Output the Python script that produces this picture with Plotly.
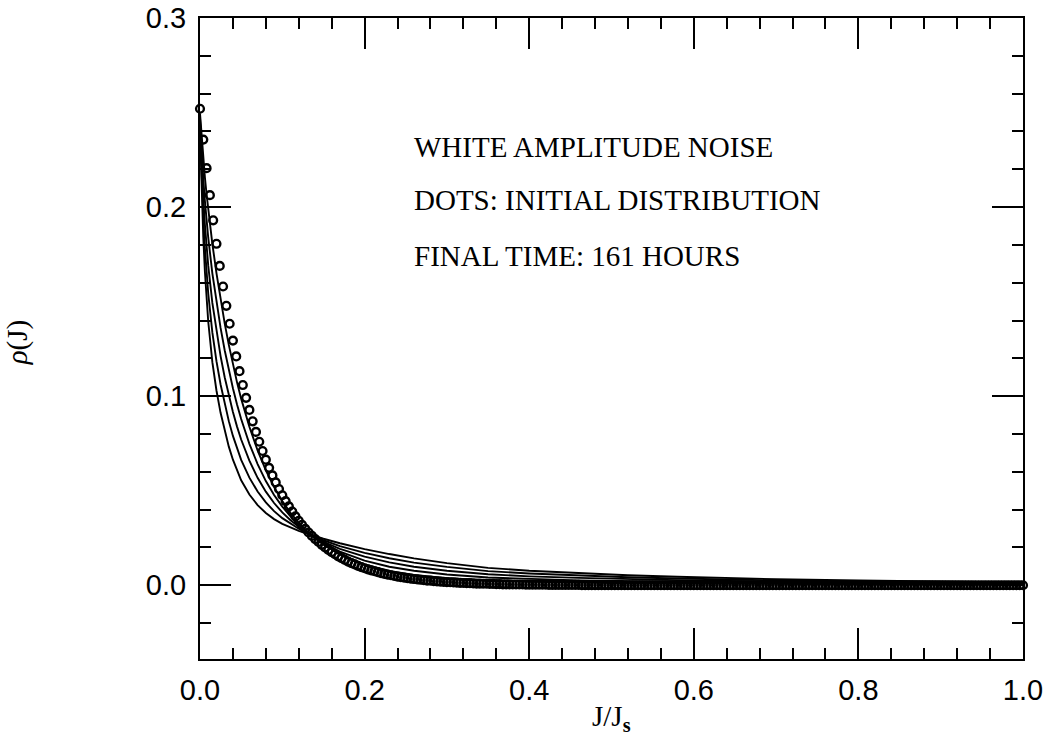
import numpy as np
import plotly.graph_objects as go

# ---- initial distribution (dots), sampled every 0.004 in J/Js ----
dot_x = np.round(np.linspace(0.0, 1.0, 251), 4)
dot_rho = [
    0.2520, 0.2357, 0.2206, 0.2063, 0.1930, 0.1806, 0.1689, 0.1580, 0.1478, 0.1383,
    0.1294, 0.1210, 0.1132, 0.1059, 0.0991, 0.0927, 0.0867, 0.0811, 0.0759, 0.0710,
    0.0664, 0.0621, 0.0581, 0.0544, 0.0509, 0.0476, 0.0445, 0.0417, 0.0390, 0.0364,
    0.0341, 0.0319, 0.0298, 0.0279, 0.0261, 0.0244, 0.0229, 0.0214, 0.0200, 0.0187,
    0.0175, 0.0164, 0.0153, 0.0143, 0.0134, 0.0125, 0.0117, 0.0110, 0.0103, 0.0096,
    0.0090, 0.0084, 0.0079, 0.0074, 0.0069, 0.0064, 0.0060, 0.0056, 0.0053, 0.0049,
    0.0046, 0.0043, 0.0040, 0.0038, 0.0035, 0.0033, 0.0031, 0.0029, 0.0027, 0.0025,
    0.0024, 0.0022, 0.0021, 0.0019, 0.0018, 0.0017, 0.0016, 0.0015, 0.0014, 0.0013,
    0.0012, 0.0011, 0.0011, 0.0010, 0.0009, 0.0009, 0.0008, 0.0008, 0.0007, 0.0007,
    0.0006, 0.0006, 0.0005, 0.0005, 0.0005, 0.0004, 0.0004, 0.0004, 0.0004, 0.0003,
    0.0003, 0.0003, 0.0003, 0.0003, 0.0003, 0.0003, 0.0002, 0.0002, 0.0002, 0.0002,
    0.0002, 0.0002, 0.0002, 0.0002, 0.0002, 0.0002, 0.0001, 0.0001, 0.0001, 0.0001,
    0.0001, 0.0001, 0.0001, 0.0001, 0.0001, 0.0001, 0.0001, 0.0001, 0.0001, 0.0000,
    0.0, 0.0, 0.0, 0.0, 0.0, 0.0, 0.0, 0.0, 0.0, 0.0, 0.0,
    0.0, 0.0, 0.0, 0.0, 0.0, 0.0, 0.0, 0.0, 0.0, 0.0, 0.0,
    0.0, 0.0, 0.0, 0.0, 0.0, 0.0, 0.0, 0.0, 0.0, 0.0, 0.0,
    0.0, 0.0, 0.0, 0.0, 0.0, 0.0, 0.0, 0.0, 0.0, 0.0, 0.0,
    0.0, 0.0, 0.0, 0.0, 0.0, 0.0, 0.0, 0.0, 0.0, 0.0, 0.0,
    0.0, 0.0, 0.0, 0.0, 0.0, 0.0, 0.0, 0.0, 0.0, 0.0, 0.0,
    0.0, 0.0, 0.0, 0.0, 0.0, 0.0, 0.0, 0.0, 0.0, 0.0, 0.0,
    0.0, 0.0, 0.0, 0.0, 0.0, 0.0, 0.0, 0.0, 0.0, 0.0, 0.0,
    0.0, 0.0, 0.0, 0.0, 0.0, 0.0, 0.0, 0.0, 0.0, 0.0, 0.0,
    0.0, 0.0, 0.0, 0.0, 0.0, 0.0, 0.0, 0.0, 0.0, 0.0, 0.0,
    0.0, 0.0, 0.0, 0.0, 0.0, 0.0, 0.0, 0.0, 0.0, 0.0, 0.0,
]

# ---- evolved distributions (solid lines) ----
curve_x = [0.000, 0.002, 0.004, 0.006, 0.008, 0.010, 0.015, 0.020, 0.025, 0.030,
           0.035, 0.040, 0.045, 0.050, 0.060, 0.070, 0.080, 0.090, 0.100, 0.110,
           0.120, 0.130, 0.140, 0.150, 0.170, 0.200, 0.230, 0.260, 0.300, 0.350,
           0.400, 0.460, 0.520, 0.580, 0.640, 0.700, 0.800, 0.900, 1.000]

rho_t1 = [0.2496, 0.2366, 0.2254, 0.2155, 0.2067, 0.1985, 0.1806, 0.1651, 0.1511, 0.1385,
          0.1271, 0.1168, 0.1073, 0.0987, 0.0838, 0.0713, 0.0608, 0.0520, 0.0446, 0.0383,
          0.0330, 0.0286, 0.0247, 0.0215, 0.0163, 0.0110, 0.0076, 0.0055, 0.0037, 0.0024,
          0.0018, 0.0014, 0.0011, 0.0009, 0.0008, 0.0006, 0.0005, 0.0004, 0.0003]
rho_t2 = [0.2472, 0.2294, 0.2150, 0.2030, 0.1928, 0.1838, 0.1650, 0.1496, 0.1361, 0.1243,
          0.1137, 0.1042, 0.0956, 0.0879, 0.0748, 0.0641, 0.0551, 0.0477, 0.0416, 0.0364,
          0.0320, 0.0283, 0.0250, 0.0223, 0.0178, 0.0130, 0.0098, 0.0077, 0.0057, 0.0041,
          0.0033, 0.0026, 0.0021, 0.0018, 0.0015, 0.0013, 0.0010, 0.0008, 0.0006]
rho_t3 = [0.2448, 0.2223, 0.2047, 0.1905, 0.1788, 0.1690, 0.1493, 0.1340, 0.1212, 0.1100,
          0.1002, 0.0916, 0.0839, 0.0771, 0.0659, 0.0568, 0.0495, 0.0435, 0.0385, 0.0344,
          0.0309, 0.0279, 0.0253, 0.0230, 0.0192, 0.0151, 0.0121, 0.0098, 0.0077, 0.0058,
          0.0047, 0.0039, 0.0032, 0.0027, 0.0023, 0.0019, 0.0015, 0.0011, 0.0009]
rho_t4 = [0.2424, 0.2151, 0.1943, 0.1780, 0.1649, 0.1543, 0.1337, 0.1185, 0.1062, 0.0958,
          0.0868, 0.0790, 0.0722, 0.0663, 0.0569, 0.0496, 0.0438, 0.0392, 0.0355, 0.0325,
          0.0299, 0.0276, 0.0256, 0.0238, 0.0207, 0.0171, 0.0143, 0.0120, 0.0097, 0.0075,
          0.0062, 0.0051, 0.0042, 0.0036, 0.0030, 0.0026, 0.0020, 0.0015, 0.0012]
rho_final = [0.2400, 0.2080, 0.1840, 0.1655, 0.1510, 0.1395, 0.1180, 0.1030, 0.0912, 0.0815,
             0.0733, 0.0664, 0.0605, 0.0555, 0.0480, 0.0424, 0.0382, 0.0350, 0.0325, 0.0305,
             0.0288, 0.0273, 0.0259, 0.0246, 0.0222, 0.0191, 0.0165, 0.0142, 0.0117, 0.0092,
             0.0077, 0.0064, 0.0053, 0.0045, 0.0038, 0.0032, 0.0025, 0.0019, 0.0015]

curves = [("t1", rho_t1), ("t2", rho_t2), ("t3", rho_t3), ("t4", rho_t4),
          ("161 hours", rho_final)]

x_tickvals = [0.0, 0.2, 0.4, 0.6, 0.8, 1.0]
x_ticktext = ["0.0", "0.2", "0.4", "0.6", "0.8", "1.0"]
y_tickvals = [0.0, 0.1, 0.2, 0.3]
y_ticktext = ["0.0", "0.1", "0.2", "0.3"]

notes = ["WHITE AMPLITUDE NOISE", "DOTS: INITIAL DISTRIBUTION", "FINAL TIME: 161 HOURS"]
note_y = [0.2317, 0.2037, 0.1741]

fig = go.Figure()
for name, vals in curves:
    fig.add_trace(go.Scatter(x=curve_x, y=vals, mode="lines", name=name,
                             line=dict(color="black", width=1.9), showlegend=False))
fig.add_trace(go.Scatter(x=dot_x, y=dot_rho, mode="markers", name="initial",
                         marker=dict(symbol="circle-open", size=7.8, color="black",
                                     line=dict(width=2.4, color="black")),
                         cliponaxis=False, showlegend=False))

for txt, yv in zip(notes, note_y):
    fig.add_annotation(x=0.257, y=yv, xref="x", yref="y", text=txt, showarrow=False,
                       xanchor="left", yanchor="middle",
                       font=dict(family="Liberation Serif", size=29, color="black"))

# axis titles placed as text annotations
fig.add_annotation(x=0.5006, y=-0.092, xref="paper", yref="paper",
                   text="J/J<sub><b>s</b></sub>", showarrow=False,
                   xanchor="center", yanchor="middle",
                   font=dict(family="Liberation Serif", size=29, color="black"))
fig.add_annotation(x=-0.222, y=0.4945, xref="paper", yref="paper",
                   text="<i>ρ</i>(J)", showarrow=False, textangle=-90,
                   xanchor="center", yanchor="middle",
                   font=dict(family="Liberation Serif", size=29, color="black"))

axis_common = dict(ticks="inside", tickwidth=1.5, tickcolor="black", ticklen=31,
                   showline=True, linewidth=2, linecolor="black", mirror="ticks",
                   showgrid=False, zeroline=False, automargin=False,
                   tickfont=dict(family="Liberation Sans", size=29, color="black"))

fig.update_xaxes(range=[0, 1], tickmode="array", tickvals=x_tickvals, ticktext=x_ticktext,
                 minor=dict(tick0=0, dtick=0.04, ticks="inside", ticklen=11, tickwidth=1.5,
                            tickcolor="black", showgrid=False),
                 ticklabelstandoff=4,
                 **axis_common)
fig.update_yaxes(range=[-0.039, 0.3], tickmode="array", tickvals=y_tickvals, ticktext=y_ticktext,
                 minor=dict(tick0=0, dtick=0.02, ticks="inside", ticklen=11, tickwidth=1.5,
                            tickcolor="black", showgrid=False),
                 ticklabelstandoff=6,
                 **axis_common)

fig.update_layout(width=1049, height=747, margin=dict(l=200, r=26, t=18, b=88),
                  paper_bgcolor="white", plot_bgcolor="white")

fig.write_html("out.html")
